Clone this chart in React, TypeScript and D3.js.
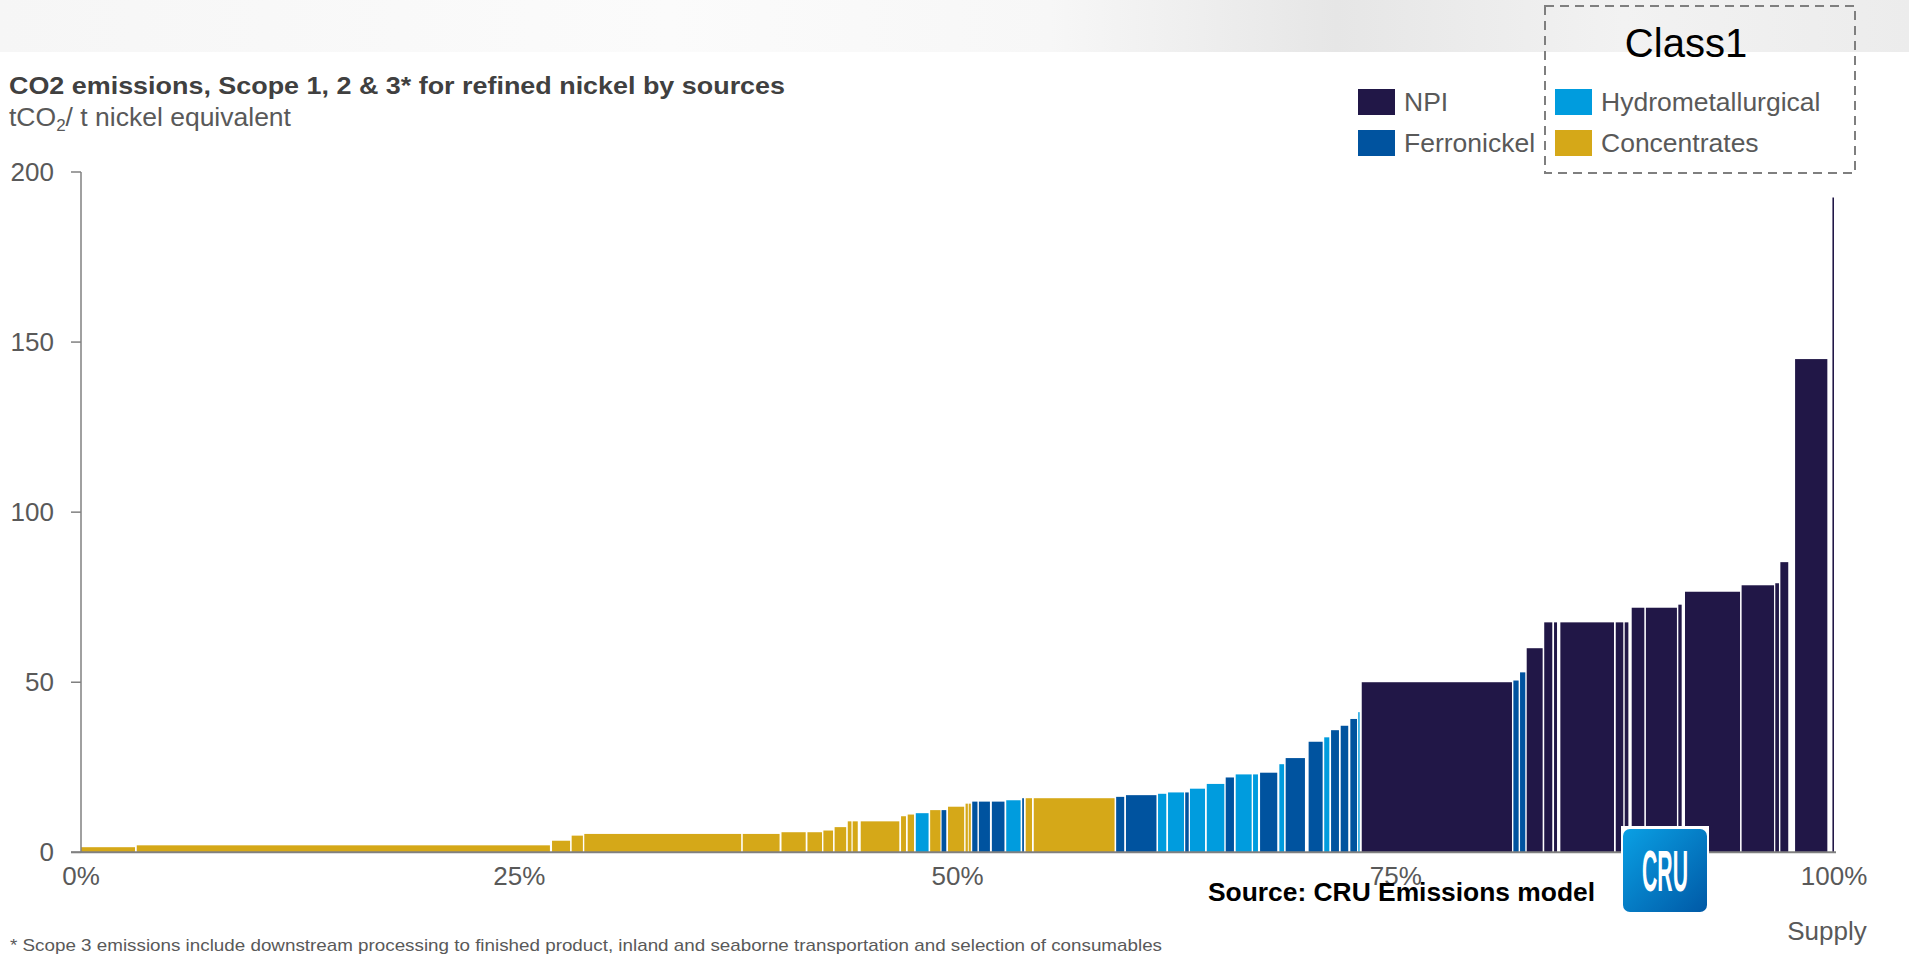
import React from "react";
import * as d3 from "d3";

// ---- data (cumulative supply %, emissions tCO2/t Ni eq) ----
const categories = ["NPI", "Ferronickel", "Hydrometallurgical", "Concentrates"];
const categoryColors = ["#211747", "#00539f", "#009cde", "#d5a818"];

const barStart = [
  0, 3.18, 26.87, 27.99, 28.71, 37.75, 39.96, 41.44, 42.35, 42.99,
  43.74, 44.02, 44.48, 46.78, 47.16, 47.62, 48.44, 49.09, 49.46, 50.46,
  50.64, 50.84, 51.22, 51.96, 52.78, 53.69, 53.89, 54.35, 59.05, 59.61,
  61.44, 62.01, 62.99, 63.26, 64.22, 65.3, 65.87, 66.86, 67.26, 68.36,
  68.72, 70.03, 70.92, 71.31, 71.86, 72.41, 72.86, 73.06, 81.71, 82.09,
  82.47, 83.47, 84.03, 84.39, 87.55, 88.06, 88.46, 89.27, 91.12, 91.5,
  94.73, 96.65, 96.94, 97.78, 99.91,
];
const barEnd = [
  3.08, 26.75, 27.9, 28.63, 37.66, 39.85, 41.34, 42.27, 42.9, 43.65,
  43.95, 44.31, 46.68, 47.06, 47.52, 48.35, 49.03, 49.36, 50.38, 50.59,
  50.76, 51.14, 51.85, 52.68, 53.6, 53.79, 54.25, 58.96, 59.51, 61.35,
  61.91, 62.92, 63.19, 64.12, 65.22, 65.77, 66.78, 67.14, 68.24, 68.63,
  69.82, 70.83, 71.21, 71.76, 72.29, 72.79, 72.94, 81.63, 82.01, 82.39,
  83.38, 83.93, 84.2, 87.45, 87.98, 88.27, 89.18, 91.04, 91.31, 94.64,
  96.58, 96.86, 97.39, 99.62, 100,
];
const barValue = [
  1.5, 2.05, 3.4, 4.9, 5.4, 5.4, 5.9, 5.9, 6.4, 7.4,
  9.1, 9.1, 9.1, 10.6, 11.1, 11.5, 12.4, 12.4, 13.4, 14.3,
  14.3, 14.9, 14.9, 14.9, 15.3, 15.9, 15.9, 15.9, 16.3, 16.8,
  17.2, 17.6, 17.6, 18.7, 20.1, 22.0, 22.9, 22.9, 23.4, 25.9,
  27.7, 32.5, 33.8, 35.9, 37.2, 39.2, 41.2, 50.0, 50.5, 52.9,
  60.0, 67.6, 67.6, 67.6, 67.6, 67.6, 71.9, 71.9, 72.8, 76.6,
  78.5, 79.1, 85.3, 145, 192.5,
];
const barCategory = [
  "Concentrates", "Concentrates", "Concentrates", "Concentrates", "Concentrates",
  "Concentrates", "Concentrates", "Concentrates", "Concentrates", "Concentrates",
  "Concentrates", "Concentrates", "Concentrates", "Concentrates", "Concentrates",
  "Hydrometallurgical", "Concentrates", "Ferronickel", "Concentrates", "Concentrates",
  "Concentrates", "Ferronickel", "Ferronickel", "Ferronickel", "Hydrometallurgical",
  "Ferronickel", "Concentrates", "Concentrates", "Ferronickel", "Ferronickel",
  "Hydrometallurgical", "Hydrometallurgical", "Ferronickel", "Hydrometallurgical", "Hydrometallurgical",
  "Ferronickel", "Hydrometallurgical", "Hydrometallurgical", "Ferronickel", "Hydrometallurgical",
  "Ferronickel", "Ferronickel", "Hydrometallurgical", "Ferronickel", "Ferronickel",
  "Ferronickel", "Hydrometallurgical", "NPI", "Ferronickel", "Ferronickel",
  "NPI", "NPI", "NPI", "NPI", "NPI",
  "NPI", "NPI", "NPI", "NPI", "NPI",
  "NPI", "NPI", "NPI", "NPI", "NPI",
];

const yTicks = [0, 50, 100, 150, 200];
const xTicks = [0, 25, 50, 75, 100];
const xTickLabels = ["0%", "25%", "50%", "75%", "100%"];

const titleText = "CO2 emissions, Scope 1, 2 & 3* for refined nickel by sources";
const footnoteText =
  "* Scope 3 emissions include downstream processing to finished product, inland and seaborne transportation and selection of consumables";
const sourceText = "Source: CRU Emissions model";

export default function App() {
  const W = 1909;
  const H = 969;
  const x = d3.scaleLinear().domain([0, 100]).range([81, 1834]);
  const y = d3.scaleLinear().domain([0, 200]).range([852.3, 172]);
  const color = d3.scaleOrdinal<string, string>().domain(categories).range(categoryColors);

  const bars = barValue.map((v, i) => ({
    x0: barStart[i],
    x1: barEnd[i],
    v,
    c: barCategory[i],
  }));

  const font = "'Liberation Sans', Arial, sans-serif";
  const gray = "#595959";
  const axisGray = "#808080";

  const legendItems = [
    { name: "NPI", lx: 1358, ly: 89 },
    { name: "Ferronickel", lx: 1358, ly: 130 },
    { name: "Hydrometallurgical", lx: 1555, ly: 89 },
    { name: "Concentrates", lx: 1555, ly: 130 },
  ];

  return (
    <div style={{ position: "absolute", left: 0, top: 0, width: W, height: H, overflow: "hidden" }}>
      <svg width={W} height={H} style={{ display: "block", background: "#fff" }} fontFamily={font}>
        <defs>
          <linearGradient id="band" x1="0" x2="1" y1="0" y2="0">
            <stop offset="0" stopColor="#f6f6f6" />
            <stop offset="0.35" stopColor="#fbfbfb" />
            <stop offset="0.55" stopColor="#f7f7f7" />
            <stop offset="0.7" stopColor="#e6e6e6" />
            <stop offset="0.85" stopColor="#f2f2f2" />
            <stop offset="1" stopColor="#ececec" />
          </linearGradient>
          <linearGradient id="cru" x1="0" x2="1" y1="0" y2="1">
            <stop offset="0" stopColor="#0aa0e4" />
            <stop offset="1" stopColor="#0059a6" />
          </linearGradient>
        </defs>

        {/* header band */}
        <rect x={0} y={0} width={W} height={52} fill="url(#band)" />

        {/* title */}
        <text x={9} y={94} fontSize={24} fontWeight="bold" fill="#404040" textLength={776} lengthAdjust="spacingAndGlyphs">
          {titleText}
        </text>
        <text x={9} y={126} fontSize={26.5} fill={gray}>
          tCO<tspan fontSize={17} dy={5}>2</tspan>
          <tspan dy={-5}>/ t nickel equivalent</tspan>
        </text>

        {/* bars */}
        <g>
          {bars.map((b, i) => (
            <rect
              key={i}
              x={x(b.x0)}
              y={y(b.v)}
              width={Math.max(0.8, x(b.x1) - x(b.x0))}
              height={y(0) - y(b.v)}
              fill={color(b.c)}
            />
          ))}
        </g>

        {/* y axis */}
        <line x1={81} x2={81} y1={y(200)} y2={y(0)} stroke={axisGray} strokeWidth={1.5} />
        {yTicks.map((t) => (
          <g key={t}>
            <line x1={71} x2={81} y1={y(t)} y2={y(t)} stroke={axisGray} strokeWidth={1.5} />
            <text x={54} y={y(t)} dy="0.35em" textAnchor="end" fontSize={26} fill={gray}>
              {t}
            </text>
          </g>
        ))}
        {/* x axis */}
        <line x1={71} x2={x(100) + 2} y1={y(0)} y2={y(0)} stroke={axisGray} strokeWidth={2} />
        {xTicks.map((t, i) => (
          <text key={t} x={x(t)} y={885} textAnchor="middle" fontSize={26} fill={gray}>
            {xTickLabels[i]}
          </text>
        ))}
        <text x={1827} y={940} textAnchor="middle" fontSize={26} fill={gray}>
          Supply
        </text>

        {/* legend */}
        {legendItems.map((l) => (
          <g key={l.name}>
            <rect x={l.lx} y={l.ly} width={37} height={26} fill={color(l.name)} />
            <text x={l.lx + 46} y={l.ly + 22} fontSize={26.5} fill={gray}>
              {l.name}
            </text>
          </g>
        ))}
        <rect x={1545} y={6} width={310} height={167} fill="none" stroke="#7f7f7f" strokeWidth={2} strokeDasharray="9 6" />
        <text x={1686} y={57} textAnchor="middle" fontSize={40} fill="#000">
          Class1
        </text>

        {/* source */}
        <text x={1208} y={901} fontSize={25} fontWeight="bold" fill="#000" textLength={387} lengthAdjust="spacingAndGlyphs">
          {sourceText}
        </text>

        {/* CRU logo */}
        <rect x={1621} y={826} width={88} height={88} fill="#fff" />
        <rect x={1623} y={829} width={84} height={83} rx={7} fill="url(#cru)" />
        <text x={1665} y={891} textAnchor="middle" fontSize={58} fontWeight="bold" fill="#fff" textLength={46} lengthAdjust="spacingAndGlyphs">
          CRU
        </text>

        {/* footnote */}
        <text x={10} y={951} fontSize={17} fill={gray} textLength={1152} lengthAdjust="spacingAndGlyphs">
          {footnoteText}
        </text>
      </svg>
    </div>
  );
}
